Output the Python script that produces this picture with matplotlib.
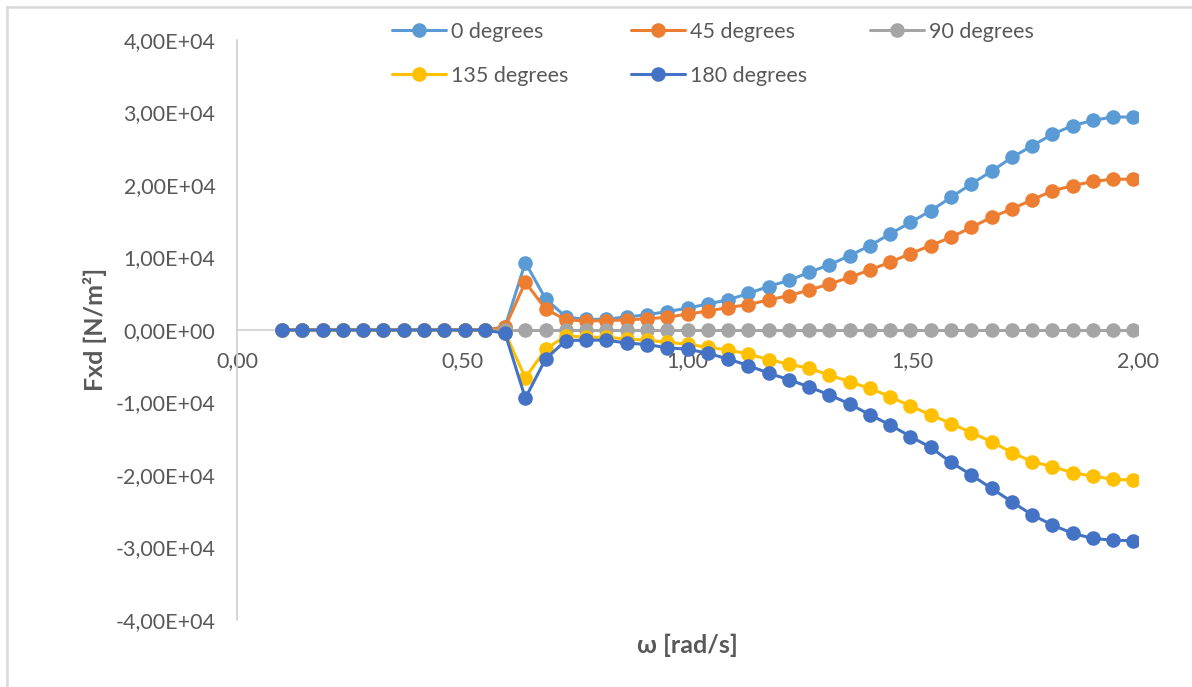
import matplotlib
matplotlib.use("Agg")
import matplotlib.pyplot as plt
from matplotlib.lines import Line2D
from matplotlib.ticker import FuncFormatter, MultipleLocator

plt.rcParams['font.family'] = ['Lato', 'DejaVu Sans']

# angular frequency [rad/s]
omega = [0.100, 0.145, 0.190, 0.235, 0.280, 0.325, 0.370, 0.415, 0.460, 0.505,
         0.550, 0.595, 0.640, 0.685, 0.730, 0.775, 0.820, 0.865, 0.910, 0.955,
         1.000, 1.045, 1.090, 1.135, 1.180, 1.225, 1.270, 1.315, 1.360, 1.405,
         1.450, 1.495, 1.540, 1.585, 1.630, 1.675, 1.720, 1.765, 1.810, 1.855,
         1.900, 1.945, 1.990]

# drift force Fxd [N/m^2] per wave heading
fxd_0 = [0, 0, 0, 0, 0, 0, 0, 0, 0, 0, 0, 450, 9300, 4300, 1800, 1450, 1500,
         1800, 2100, 2550, 3000, 3600, 4150, 5050, 6000, 6850, 7950, 9000,
         10250, 11650, 13250, 14850, 16450, 18300, 20150, 21900, 23800, 25400,
         27000, 28200, 28900, 29400, 29350]
fxd_45 = [0, 0, 0, 0, 0, 0, 0, 0, 0, 0, 0, 350, 6600, 2900, 1400, 1250, 1300,
          1400, 1550, 1750, 2200, 2600, 3100, 3500, 4150, 4750, 5500, 6350,
          7250, 8300, 9350, 10550, 11650, 12800, 14150, 15550, 16700, 17950,
          19200, 19900, 20500, 20800, 20800]
fxd_90 = [0, 0, 0, 0, 0, 0, 0, 0, 0, 0, 0, 0, 0, 0, 0, 0, 0, 0, 0, 0, 0, 0,
          0, 0, 0, 0, 0, 0, 0, 0, 0, 0, 0, 0, 0, 0, 0, 0, 0, 0, 0, 0, 0]
fxd_135 = [0, 0, 0, 0, 0, 0, 0, 0, 0, 0, 0, -350, -6600, -2650, -800, -1000,
           -1000, -1250, -1400, -1700, -1950, -2400, -2750, -3300, -4100,
           -4700, -5300, -6200, -7150, -8050, -9200, -10500, -11700, -12900,
           -14150, -15400, -16900, -18150, -18850, -19700, -20150, -20600,
           -20700]
fxd_180 = [0, 0, 0, 0, 0, 0, 0, 0, 0, 0, 0, -450, -9400, -4000, -1450, -1400,
           -1400, -1800, -2000, -2450, -2650, -3200, -4000, -4900, -5950,
           -6850, -7850, -8950, -10200, -11700, -13100, -14700, -16200, -18250,
           -20000, -21850, -23700, -25500, -26900, -28050, -28750, -29000,
           -29050]

labels = ["0 degrees", "45 degrees", "90 degrees", "135 degrees", "180 degrees"]
colors = ["#5B9BD5", "#ED7D31", "#A5A5A5", "#FFC000", "#4472C4"]
series = [fxd_0, fxd_45, fxd_90, fxd_135, fxd_180]

W, H = 1192, 687
fig = plt.figure(figsize=(W / 100, H / 100), dpi=100)
ax = fig.add_axes([237 / W, 1 - 620 / H, (1138 - 237) / W, (620 - 40) / H])

text_col = "#595959"
axis_col = "#D0D0D0"
fs = 15.5

handles = []
for vals, col, lab in zip(series, colors, labels):
    h, = ax.plot(omega, vals, color=col, lw=2.2, marker='o', ms=10.5,
                 markeredgewidth=0, label=lab, solid_capstyle='round')
    handles.append(h)

ax.set_xlim(0, 2.0)
ax.set_ylim(-40000, 40000)
ax.xaxis.set_major_locator(MultipleLocator(0.5))
ax.yaxis.set_major_locator(MultipleLocator(10000))
ax.xaxis.set_major_formatter(FuncFormatter(lambda v, p: f"{v:.2f}".replace('.', ',')))
ax.yaxis.set_major_formatter(FuncFormatter(lambda v, p: f"{v:.2E}".replace('.', ',')))

for s in ("top", "right"):
    ax.spines[s].set_visible(False)
ax.spines["bottom"].set_position(("data", 0))
ax.spines["bottom"].set_color(axis_col)
ax.spines["left"].set_color(axis_col)
ax.spines["bottom"].set_linewidth(1.2)
ax.spines["left"].set_linewidth(1.2)
ax.spines["bottom"].set_zorder(0)

ax.tick_params(axis='both', length=0, labelsize=fs, labelcolor=text_col)
ax.tick_params(axis='y', pad=15.5)
ax.tick_params(axis='x', pad=15)

fig.text(95 / W, 1 - 329 / H, "Fxd [N/m²]", rotation=90, ha='center',
         va='center', fontsize=18, fontweight='bold', color=text_col)
fig.text(687 / W, 1 - 645 / H, "ω [rad/s]", ha='center', va='center',
         fontsize=18, fontweight='bold', color=text_col)

# legend laid out row by row: 0, 45, 90 / 135, 180
order = [0, 3, 1, 4, 2]
leg = fig.legend([handles[i] for i in order], [labels[i] for i in order],
                 loc='upper left', bbox_to_anchor=(392 / W, 1 - 22 / H),
                 ncol=3, frameon=False, fontsize=fs, borderpad=0,
                 borderaxespad=0, handlelength=2.5, handletextpad=0.25,
                 columnspacing=2.9, labelspacing=1.1)
for t in leg.get_texts():
    t.set_color(text_col)

# chart area border
fig.add_artist(Line2D([7 / W, 7 / W], [0, 1 - 7 / H], color="#D9D9D9", lw=1.8))
fig.add_artist(Line2D([7 / W, 1], [1 - 7 / H, 1 - 7 / H], color="#D9D9D9", lw=1.8))

fig.savefig("out.png", dpi=100)
